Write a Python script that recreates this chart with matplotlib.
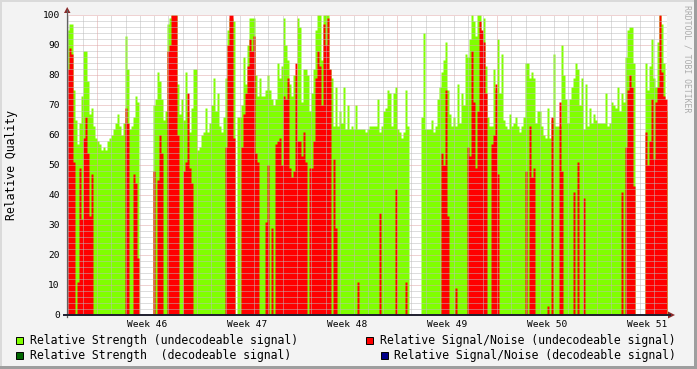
import matplotlib
matplotlib.use("Agg")
import matplotlib.pyplot as plt
from matplotlib.patches import Rectangle, Polygon
from matplotlib.lines import Line2D
import numpy as np

# ---------------- data ----------------
# samples every 0.14 day (3.36 h); first sample 2.1 days before the Monday of week 46
t0_days = -2.1
sample_days = 0.14

strength_undec = [
    95, 97, 97, 75, 65, 57, 64, 73, 88, 88, 78, 67, 69,
    63, 59, 58, 57, 55, 56, 55, 58, 59, 60, 62, 64, 67, 63, 60, 64,
    93, 82, 62, 63, 66, 73, 71,
    0, 0, 0, 0, 0, 0, 0,
    70, 72, 81, 78, 72, 65, 68,
    97, 99, 100, 100, 100,
    77, 67, 72, 65, 81, 68, 61, 69, 82, 82,
    55, 56, 60, 61, 69, 61, 64, 70, 79, 68, 74, 63, 61, 66,
    79, 95, 99, 99, 98,
    0,
    66, 66, 70, 86, 77, 90, 99, 99, 99,
    80, 73, 79, 73, 73, 75, 80, 75,
    72, 70, 72, 84, 79, 83, 99, 90, 85, 77, 73, 80,
    80, 99, 96, 71, 82, 82,
    80, 68, 74, 82, 95, 100, 100, 85, 100, 100, 100, 82,
    79, 63, 76, 63, 68, 64, 76, 62, 70, 62, 63, 62, 70, 62, 62, 62, 62, 61, 62, 63, 63, 63,
    63, 72, 61, 63, 68, 69, 75, 74, 63, 74, 76, 62, 61, 59, 61, 75, 63,
    0, 0, 0, 0, 0, 0,
    66, 94, 62, 62, 62, 65, 61, 63, 72, 76, 81, 85, 91, 75, 67, 63, 66, 63, 77, 64, 74, 70,
    87, 86, 92, 100, 98, 93, 100, 100, 94, 99,
    83, 66, 63, 63, 82, 75, 92, 74, 87, 65, 63, 62, 67, 63, 64, 66, 63, 61, 63, 66,
    84, 84, 79, 81, 79, 64, 68, 68, 63, 60, 59, 69, 59, 65, 87, 63, 63, 63, 90, 80,
    72, 64, 72, 76, 79, 84, 82, 70, 79, 62,
    77, 63, 69, 64, 67, 65, 64, 64, 64, 64, 74, 63, 64, 71, 70, 69, 76, 68, 74, 71,
    86, 95, 96, 96, 84,
    0, 0, 0, 0, 0,
    84, 75, 83, 92, 79, 76, 91, 100, 97, 84, 68,
]

snr_undec = [
    82, 89, 87, 51, 0, 11, 49, 32, 59, 66, 54, 33, 47,
    0, 0, 0, 0, 0, 0, 0, 0, 0, 0, 0, 0, 0, 0, 0, 0,
    69, 64, 0, 0, 47, 44, 19,
    0, 0, 0, 0, 0, 0, 0,
    48, 0, 45, 60, 54, 0, 0,
    88, 90, 100, 100, 100,
    60, 0, 0, 48, 51, 74, 49, 44, 0, 0,
    0, 0, 0, 0, 0, 0, 0, 0, 0, 0, 0, 0, 0, 0,
    56, 90, 100, 100, 59,
    0,
    0, 0, 56, 67, 74, 83, 92, 88, 93,
    54, 51, 0, 0, 0, 31, 50, 0,
    29, 0, 57, 58, 59, 50, 73, 72, 79, 49, 46, 48,
    84, 58, 58, 53, 61, 51,
    0, 49, 49, 58, 79, 88, 83, 70, 97, 90, 99, 82,
    0, 52, 29, 0, 0, 0, 0, 0, 0, 0, 0, 0, 0, 11, 0, 0, 0, 0, 0, 0, 0, 0,
    0, 0, 34, 0, 0, 0, 0, 0, 0, 0, 42, 0, 0, 0, 0, 11, 0,
    0, 0, 0, 0, 0, 0,
    0, 0, 0, 0, 0, 0, 0, 0, 0, 0, 54, 50, 75, 33, 0, 0, 0, 9, 0, 0, 0, 0,
    0, 56, 53, 88, 71, 49, 68, 98, 95, 91,
    74, 0, 0, 57, 60, 77, 47, 0, 0, 0, 0, 0, 0, 0, 0, 0, 0, 0, 0, 0,
    48, 0, 63, 46, 49, 0, 0, 0, 0, 0, 0, 3, 0, 66, 0, 0, 0, 71, 48, 0,
    0, 0, 0, 0, 41, 0, 51, 0, 0, 39,
    0, 0, 0, 0, 0, 0, 0, 0, 0, 0, 0, 0, 0, 0, 0, 0, 0, 0, 41, 0,
    56, 75, 80, 76, 43,
    0, 0, 0, 0, 0,
    61, 50, 58, 72, 52, 71, 76, 100, 81, 73, 72,
]

week_labels = ["Week 46", "Week 47", "Week 48", "Week 49", "Week 50", "Week 51"]
y_ticks = [0, 10, 20, 30, 40, 50, 60, 70, 80, 90, 100]

legend_items = [
    ("Relative Strength (undecodeable signal)", "#80FF00"),
    ("Relative Strength  (decodeable signal)", "#006600"),
    ("Relative Signal/Noise (undecodeable signal)", "#FF0000"),
    ("Relative Signal/Noise (decodeable signal)", "#000088"),
]

# ---------------- figure ----------------
W, H = 697, 369
fig = plt.figure(figsize=(W / 100, H / 100), dpi=100, facecolor="#F3F3F3")
MONO = "DejaVu Sans Mono"


def fx(x):
    return x / W


def fy(y):
    return 1 - y / H


PL, PR, PT, PB = 67, 667, 15, 315
ax = fig.add_axes([fx(PL), fy(PB), (PR - PL) / W, (PB - PT) / H])
ax.set_facecolor("white")
for s in ax.spines.values():
    s.set_visible(False)

n = len(strength_undec)
edges = t0_days + sample_days * np.arange(n + 1)
xmin, xmax = edges[0], edges[-1]

g = np.array(strength_undec + [strength_undec[-1]], dtype=float)
r = np.array(snr_undec + [snr_undec[-1]], dtype=float)
ax.fill_between(edges, 0, g, step="post", color=legend_items[0][1], lw=0, antialiased=False, zorder=1)
ax.fill_between(edges, 0, r, step="post", color=legend_items[2][1], lw=0, antialiased=False, zorder=2)

ax.set_xlim(xmin, xmax)
ax.set_ylim(0, 100)

# grid (drawn over data, dotted)
minor_c = "#BDBDBD"
major_c = "#E0A6A6"
dash = (0, (1, 1))
for d in range(int(np.ceil(xmin)), int(np.floor(xmax)) + 1):
    if d % 7 == 0:
        continue
    ax.axvline(d, color=minor_c, lw=0.72, ls=dash, zorder=3)
for v in range(2, 100, 2):
    if v % 10 == 0:
        continue
    ax.axhline(v, color=minor_c, lw=0.72, ls=dash, zorder=3)
for d in range(0, int(xmax) + 1, 7):
    ax.axvline(d, color=major_c, lw=0.72, ls=dash, zorder=4)
for v in range(10, 101, 10):
    ax.axhline(v, color=major_c, lw=0.72, ls=dash, zorder=4)

# ticks
ax.set_yticks(y_ticks)
ax.set_yticklabels([str(v) for v in y_ticks], family=MONO, fontsize=6.8)
ax.set_xticks([3.5 + 7 * k for k in range(len(week_labels))])
ax.set_xticklabels(week_labels, family=MONO, fontsize=6.8)
ax.tick_params(axis="y", length=0, pad=5.2)
ax.tick_params(axis="x", length=0, pad=3.6)

# axes lines and arrows
fig.add_artist(Line2D([fx(PL), fx(PL)], [fy(PB + 2), fy(10)], color="#606060", lw=0.9))
fig.add_artist(Line2D([fx(PL - 3), fx(670)], [fy(PB), fy(PB)], color="#1E1E2E", lw=1.4))
fig.add_artist(Polygon([[fx(64), fy(13)], [fx(70.5), fy(13)], [fx(67.2), fy(7)]],
                       closed=True, color="#8B2A2A", lw=0))
fig.add_artist(Polygon([[fx(668), fy(311.5)], [fx(668), fy(318.5)], [fx(675), fy(315)]],
                       closed=True, color="#8B2A2A", lw=0))

# labels
fig.text(fx(12), fy(165), "Relative Quality", rotation=90, ha="center", va="center",
         family=MONO, fontsize=8.3)
fig.text(fx(687), fy(5), "RRDTOOL / TOBI OETIKER", rotation=270, ha="center", va="top",
         family=MONO, fontsize=5.9, color="#ABABAB")

# legend
leg_pos = [(16, 340.7), (16, 355), (366, 340.7), (380.5, 355)]
for (label, col), (x, y) in zip(legend_items, leg_pos):
    fig.add_artist(Rectangle((fx(x), fy(y + 3.5)), 7 / W, 7 / H, facecolor=col,
                             edgecolor="black", lw=0.7))
    fig.text(fx(x + 14), fy(y), label, ha="left", va="center", family=MONO, fontsize=8.3)

# 3D border
fig.add_artist(Rectangle((0, 1 - 2 / H), 1, 2 / H, facecolor="#DADADA", lw=0))
fig.add_artist(Rectangle((0, 0), 2 / W, 1, facecolor="#DADADA", lw=0))
fig.add_artist(Rectangle((1 - 3 / W, 0), 3 / W, 1, facecolor="#9E9E9E", lw=0))
fig.add_artist(Rectangle((0, 0), 1, 3 / H, facecolor="#9E9E9E", lw=0))

fig.savefig("out.png", dpi=100, facecolor=fig.get_facecolor())
